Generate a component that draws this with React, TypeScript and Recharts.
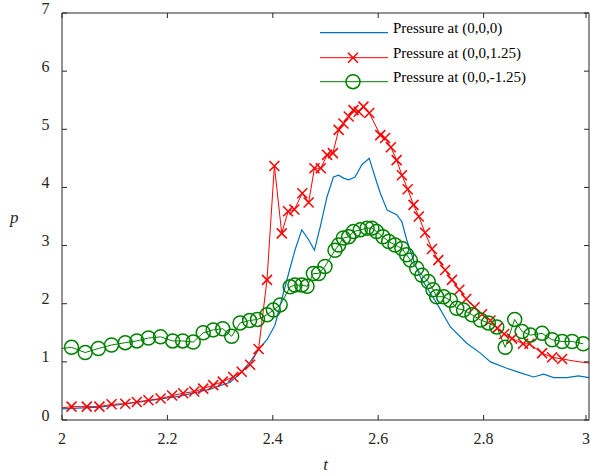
import { LineChart, Line, XAxis, YAxis } from 'recharts'

const tTicks = [2, 2.2, 2.4, 2.6, 2.8, 3]
const pTicks = [0, 1, 2, 3, 4, 5, 6, 7]

const legendNames = ['Pressure at (0,0,0)', 'Pressure at (0,0,1.25)', 'Pressure at (0,0,-1.25)']

// pressure at (0,0,0), plain line
const blueT = [
  2.0, 2.072, 2.148, 2.224, 2.281, 2.319, 2.338, 2.357, 2.372, 2.389, 2.404, 2.42, 2.43, 2.442,
  2.455, 2.468, 2.479, 2.49, 2.503, 2.515, 2.525, 2.534, 2.544, 2.556, 2.569, 2.583, 2.594, 2.604,
  2.617, 2.635, 2.645, 2.654, 2.667, 2.68, 2.699, 2.711, 2.737, 2.768, 2.794, 2.813, 2.844, 2.87,
  2.895, 2.914, 2.933, 2.958, 2.98, 3.0,
]
const blueP = [
  0.19, 0.22, 0.31, 0.41, 0.53, 0.65, 0.8, 1.0, 1.2, 1.38, 1.63, 2.18, 2.52, 2.92,
  3.27, 3.1, 2.92, 3.32, 3.84, 4.18, 4.21, 4.16, 4.13, 4.18, 4.39, 4.5, 4.18, 3.9,
  3.61, 3.53, 3.41, 3.1, 2.75, 2.46, 2.18, 2.01, 1.6, 1.32, 1.15, 1.0, 0.89, 0.81,
  0.74, 0.79, 0.73, 0.73, 0.76, 0.73,
]

// pressure at (0,0,1.25): marked points plus unmarked ends
const redHeadT = [2.0]
const redHeadP = [0.21]
const redT = [
  2.018, 2.047, 2.071, 2.094, 2.12, 2.142, 2.164, 2.187, 2.209, 2.23, 2.251, 2.268, 2.287, 2.305,
  2.325, 2.341, 2.357, 2.373, 2.389, 2.403, 2.417, 2.429, 2.441, 2.456, 2.468, 2.479, 2.491, 2.503,
  2.514, 2.525, 2.534, 2.544, 2.553, 2.563, 2.572, 2.583, 2.604, 2.613, 2.624, 2.635, 2.645, 2.656,
  2.667, 2.677, 2.689, 2.702, 2.714, 2.727, 2.74, 2.754, 2.767, 2.783, 2.797, 2.813, 2.826, 2.839,
  2.854, 2.875, 2.887, 2.911, 2.93, 2.949,
]
const redP = [
  0.23, 0.23, 0.23, 0.27, 0.28, 0.31, 0.34, 0.37, 0.42, 0.46, 0.49, 0.54, 0.6, 0.66,
  0.74, 0.83, 0.95, 1.22, 2.41, 4.37, 3.21, 3.59, 3.62, 3.9, 3.74, 4.33, 4.33, 4.56,
  4.59, 4.99, 5.1, 5.22, 5.33, 5.3, 5.39, 5.28, 4.9, 4.85, 4.69, 4.47, 4.21, 3.97,
  3.7, 3.5, 3.22, 2.94, 2.75, 2.58, 2.41, 2.24, 2.08, 1.94, 1.82, 1.71, 1.58, 1.48,
  1.4, 1.31, 1.31, 1.15, 1.08, 1.05,
]
const redTailT = [2.974, 3.0]
const redTailP = [1.01, 0.98]

// pressure at (0,0,-1.25)
const greenHeadT = [2.0]
const greenHeadP = [1.23]
const greenT = [
  2.018, 2.044, 2.069, 2.094, 2.12, 2.142, 2.164, 2.187, 2.21, 2.229, 2.249, 2.268, 2.287, 2.305,
  2.322, 2.338, 2.356, 2.371, 2.389, 2.401, 2.414, 2.433, 2.442, 2.455, 2.465, 2.477, 2.487, 2.499,
  2.518, 2.525, 2.534, 2.544, 2.553, 2.566, 2.579, 2.588, 2.597, 2.609, 2.62, 2.632, 2.645, 2.654,
  2.661, 2.673, 2.683, 2.695, 2.704, 2.711, 2.724, 2.737, 2.749, 2.762, 2.778, 2.794, 2.809, 2.825,
  2.841, 2.859, 2.873, 2.889, 2.911, 2.93, 2.949, 2.968, 2.989,
]
const greenP = [
  1.25, 1.16, 1.23, 1.29, 1.33, 1.36, 1.41, 1.43, 1.36, 1.36, 1.34, 1.5, 1.55, 1.57,
  1.44, 1.67, 1.71, 1.73, 1.81, 1.89, 1.98, 2.29, 2.32, 2.32, 2.3, 2.52, 2.52, 2.64,
  2.92, 3.01, 3.13, 3.15, 3.24, 3.27, 3.3, 3.3, 3.24, 3.15, 3.07, 3.01, 2.95, 2.84,
  2.75, 2.61, 2.49, 2.38, 2.24, 2.12, 2.12, 2.06, 1.92, 1.89, 1.81, 1.72, 1.67, 1.6,
  1.25, 1.73, 1.52, 1.46, 1.49, 1.38, 1.35, 1.35, 1.31,
]

const zip = (t: number[], p: number[]) => t.map((v, i) => ({ t: v, p: p[i] }))

const blueData = zip(blueT, blueP)
const redMarks = zip(redT, redP)
const redData = [...zip(redHeadT, redHeadP), ...redMarks, ...zip(redTailT, redTailP)]
const greenMarks = zip(greenT, greenP)
const greenData = [...zip(greenHeadT, greenHeadP), ...greenMarks]

const BLUE = '#0072bd'
const RED = '#ff0000'
const GREEN = '#008000'
const AXIS = '#262626'
const FONT = '"Liberation Serif", "Times New Roman", serif'

const Cross = (props: any) => {
  const { cx, cy, index } = props
  if (cx == null || cy == null) return <g key={index} />
  return (
    <path
      key={index}
      d={`M${cx - 5},${cy - 5}L${cx + 5},${cy + 5}M${cx - 5},${cy + 5}L${cx + 5},${cy - 5}`}
      stroke={RED}
      strokeWidth={1.5}
      fill="none"
    />
  )
}

const BottomTick = (props: any) => {
  const { x, y, payload } = props
  return (
    <g>
      <line x1={x} y1={y} x2={x} y2={y - 5} stroke={AXIS} />
      <text x={x} y={y + 23.5} textAnchor="middle" fontSize={16} fontFamily={FONT} fill={AXIS}>
        {payload.value}
      </text>
    </g>
  )
}

const LeftTick = (props: any) => {
  const { x, y, payload } = props
  return (
    <g>
      <line x1={x} y1={y} x2={x + 5} y2={y} stroke={AXIS} />
      <text x={x - 12.5} y={y + 0.5} textAnchor="end" fontSize={16} fontFamily={FONT} fill={AXIS}>
        {payload.value}
      </text>
    </g>
  )
}

const TopTick = (props: any) => {
  const { x, y } = props
  return <line x1={x} y1={y} x2={x} y2={y + 5} stroke={AXIS} />
}

const RightTick = (props: any) => {
  const { x, y } = props
  return <line x1={x} y1={y} x2={x - 5} y2={y} stroke={AXIS} />
}

function LegendBox() {
  const rows = [32.7, 57.7, 81.7]
  const colors = [BLUE, RED, GREEN]
  return (
    <svg
      width={260}
      height={100}
      style={{ position: 'absolute', left: 310, top: 0, overflow: 'visible' }}
    >
      {rows.map((y, i) => (
        <g key={i}>
          <line x1={10} y1={y} x2={78} y2={y} stroke={colors[i]} strokeWidth={i === 0 ? 1.2 : 1} />
          {i === 1 && (
            <path
              d={`M${38},${y - 5}L${48},${y + 5}M${38},${y + 5}L${48},${y - 5}`}
              stroke={RED}
              strokeWidth={1.5}
            />
          )}
          {i === 2 && <circle cx={43} cy={y} r={7} stroke={GREEN} strokeWidth={1.5} fill="none" />}
          <text x={83} y={y} fontSize={15} fontFamily={FONT} fill="#000">
            {legendNames[i]}
          </text>
        </g>
      ))}
    </svg>
  )
}

export default function App() {
  return (
    <div style={{ position: 'absolute', left: 0, top: 0, width: 590, height: 476, background: '#fff' }}>
      <LineChart width={590} height={476} margin={{ top: 12, right: 0, bottom: 0, left: 0 }}>
        <XAxis
          xAxisId={0}
          dataKey="t"
          type="number"
          domain={[2, 3]}
          ticks={tTicks}
          allowDataOverflow
          height={56}
          stroke={AXIS}
          tickSize={0}
          tickMargin={0}
          tickLine={false}
          tick={BottomTick}
          label={{
            value: 't',
            position: 'insideBottom',
            offset: 6,
            style: { fontFamily: FONT, fontSize: 17, fontStyle: 'italic', fill: AXIS },
          }}
        />
        <XAxis
          xAxisId="top"
          orientation="top"
          dataKey="t"
          type="number"
          domain={[2, 3]}
          ticks={tTicks}
          allowDataOverflow
          height={1}
          stroke={AXIS}
          tickSize={0}
          tickMargin={0}
          tickLine={false}
          tick={TopTick}
        />
        <YAxis
          yAxisId={0}
          type="number"
          domain={[0, 7]}
          ticks={pTicks}
          allowDataOverflow
          width={62}
          stroke={AXIS}
          tickSize={0}
          tickMargin={0}
          tickLine={false}
          tick={LeftTick}
          label={{
            value: 'p',
            position: 'insideLeft',
            offset: 10,
            style: { fontFamily: FONT, fontSize: 17, fontStyle: 'italic', fill: AXIS },
          }}
        />
        <YAxis
          yAxisId="right"
          orientation="right"
          type="number"
          domain={[0, 7]}
          ticks={pTicks}
          allowDataOverflow
          width={1}
          stroke={AXIS}
          tickSize={0}
          tickMargin={0}
          tickLine={false}
          tick={RightTick}
        />
        <Line
          data={blueData}
          dataKey="p"
          type="linear"
          stroke={BLUE}
          strokeWidth={1.2}
          dot={false}
          activeDot={false}
          isAnimationActive={false}
        />
        <Line
          data={redData}
          dataKey="p"
          type="linear"
          stroke={RED}
          strokeWidth={1}
          dot={false}
          activeDot={false}
          isAnimationActive={false}
        />
        <Line
          data={redMarks}
          dataKey="p"
          type="linear"
          stroke="none"
          dot={Cross}
          activeDot={false}
          isAnimationActive={false}
        />
        <Line
          data={greenData}
          dataKey="p"
          type="linear"
          stroke={GREEN}
          strokeWidth={1}
          dot={false}
          activeDot={false}
          isAnimationActive={false}
        />
        <Line
          data={greenMarks}
          dataKey="p"
          type="linear"
          stroke="none"
          dot={{ r: 7, stroke: GREEN, strokeWidth: 1.5, fill: 'none' }}
          activeDot={false}
          isAnimationActive={false}
        />
      </LineChart>
      <LegendBox />
    </div>
  )
}
